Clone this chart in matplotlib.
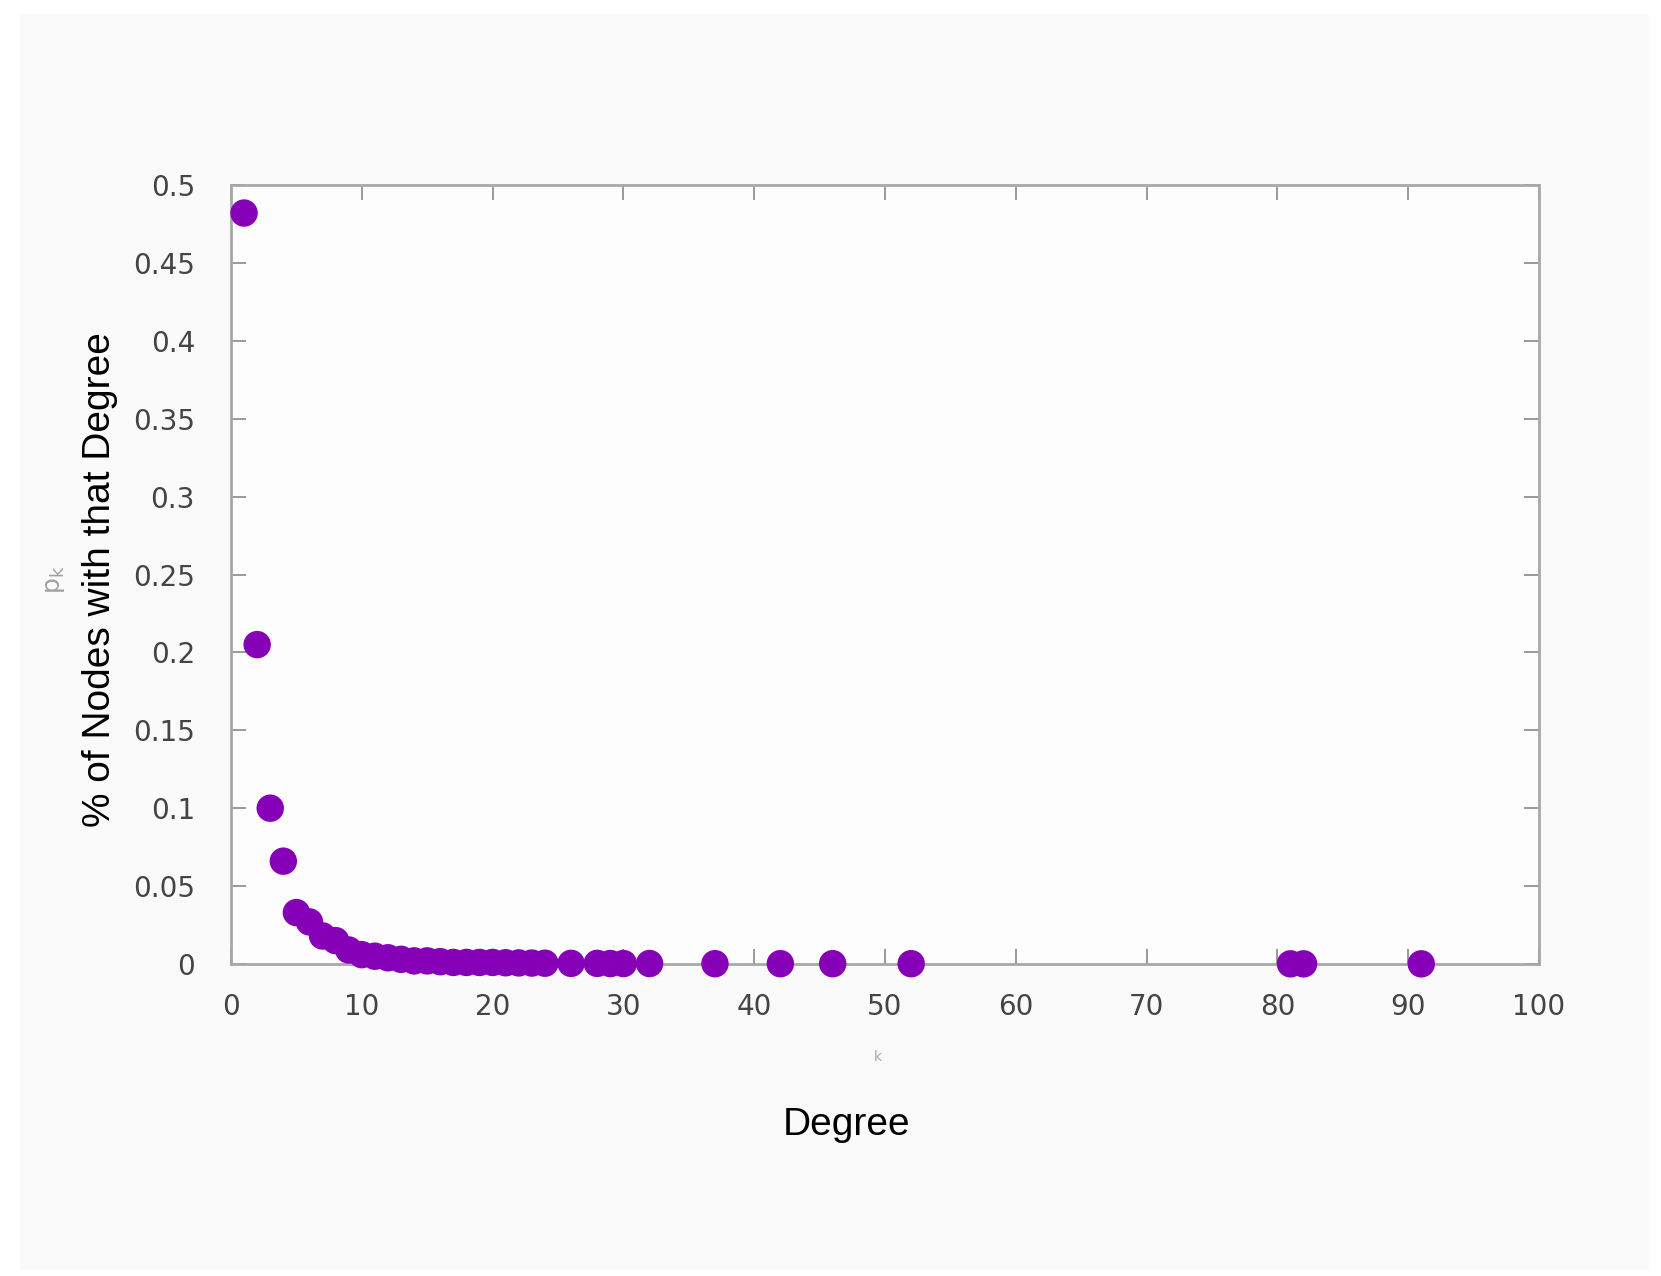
import matplotlib
matplotlib.use("Agg")
import matplotlib.pyplot as plt
from matplotlib.patches import Rectangle

# Degree distribution: node degree k and fraction of nodes p_k
degree = [1, 2, 3, 4, 5, 6, 7, 8, 9, 10, 11, 12, 13, 14, 15, 16, 17, 18,
          19, 20, 21, 22, 23, 24, 26, 28, 29, 30, 32, 37, 42, 46, 52, 81, 82, 91]
pk = [0.482, 0.205, 0.100, 0.066, 0.033, 0.027, 0.018, 0.015, 0.009, 0.006,
      0.005, 0.004, 0.003, 0.002, 0.002, 0.0015, 0.001, 0.001, 0.001, 0.001,
      0.0008, 0.0007, 0.0006, 0.0005, 0.0004, 0.0004, 0.0003, 0.0003, 0.0003,
      0.0002, 0.0002, 0.0002, 0.0002, 0.0001, 0.0001, 0.0001]

x_ticks = [0, 10, 20, 30, 40, 50, 60, 70, 80, 90, 100]
y_ticks = [0, 0.05, 0.1, 0.15, 0.2, 0.25, 0.3, 0.35, 0.4, 0.45, 0.5]
y_tick_labels = ["0", "0.05", "0.1", "0.15", "0.2", "0.25", "0.3", "0.35",
                 "0.4", "0.45", "0.5"]

W, H = 1661, 1276
fig = plt.figure(figsize=(W / 100, H / 100), dpi=100)
fig.patch.set_facecolor("white")
# faint grey page tone behind the plot
fig.patches.append(Rectangle((20 / W, 6 / H), 1 - 32 / W, 1 - 20 / H,
                             transform=fig.transFigure, facecolor="#fafafa",
                             edgecolor="none", zorder=-10))

ax = fig.add_axes([231 / W, 1 - 964 / H, (1539 - 231) / W, (964 - 185) / H])
ax.set_facecolor("#fdfdfd")

ax.scatter(degree, pk, s=390, color="#8600b8", edgecolors="none",
           zorder=3, clip_on=False)

ax.set_xlim(0, 100)
ax.set_ylim(0, 0.5)
ax.set_xticks(x_ticks)
ax.set_yticks(y_ticks)
ax.set_yticklabels(y_tick_labels)

frame_col = "#a8a8a8"
for sp in ax.spines.values():
    sp.set_color(frame_col)
    sp.set_linewidth(2.0)

ax.tick_params(direction="in", length=11, width=1.4, color="#9a9a9a",
               top=True, right=True, labelsize=20, labelcolor="#444444")
ax.tick_params(axis="x", pad=21)
ax.tick_params(axis="y", pad=26)

# faint original axis symbols
fig.text(55 / W, 1 - 580 / H, r"p$_{\rm k}$", rotation=90, fontsize=18,
         color="#a0a0a0", ha="center", va="center")
fig.text(878 / W, 1 - 1057 / H, "k", fontsize=10, color="#aaaaaa",
         ha="center", va="center")

fig.text(100 / W, 1 - 580 / H, "% of Nodes with that Degree", rotation=90,
         fontsize=28, family="Liberation Sans", color="black",
         ha="center", va="center")
fig.text(847 / W, 1 - 1125 / H, "Degree", fontsize=28,
         family="Liberation Sans", color="black", ha="center", va="center")

fig.savefig("out.png", dpi=100)
